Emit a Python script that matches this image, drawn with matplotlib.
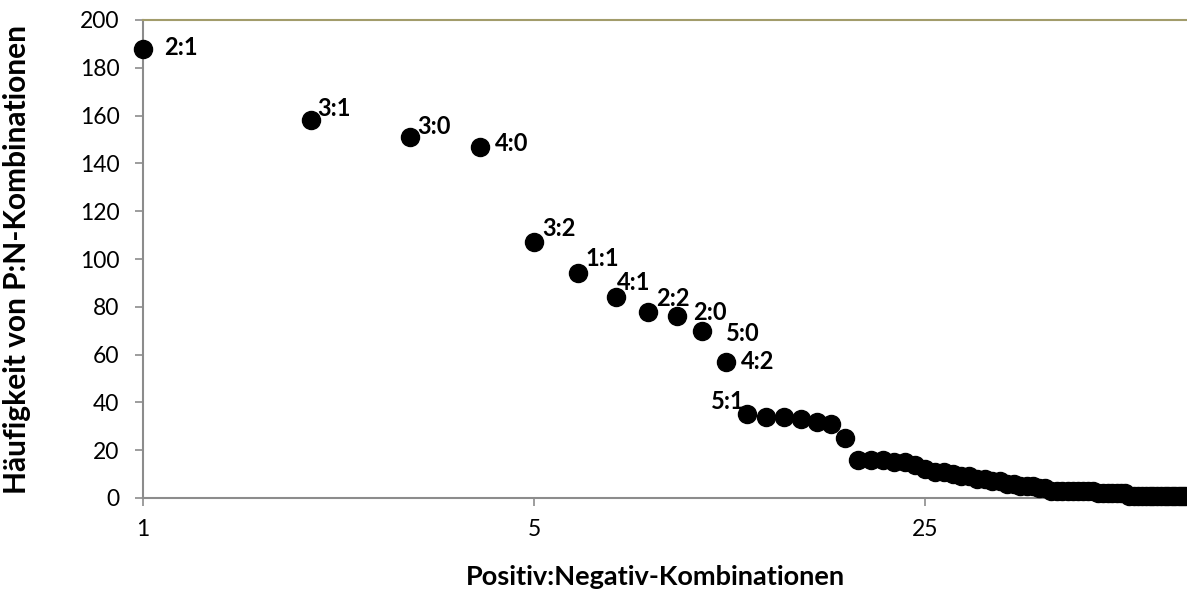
import matplotlib
matplotlib.use("Agg")
import matplotlib.pyplot as plt
from matplotlib.ticker import FixedLocator, FixedFormatter, NullLocator

# ---- data ----
values = [188, 158, 151, 147, 107, 94, 84, 78, 76, 70, 57, 35,
          34, 34, 33, 32, 31, 25,
          16, 16, 16, 15, 15, 14, 12, 11, 11, 10, 9, 9, 8, 8, 7, 7,
          6, 6, 5, 5, 5, 4, 4, 3, 3, 3, 3, 3, 3, 3, 3, 3,
          2, 2, 2, 2, 2, 2, 2,
          1, 1, 1, 1, 1, 1, 1, 1, 1, 1, 1, 1, 1, 1, 1, 1, 1]
ranks = list(range(1, len(values) + 1))
point_labels = ["2:1", "3:1", "3:0", "4:0", "3:2", "1:1", "4:1", "2:2",
                "2:0", "5:0", "4:2", "5:1"]
x_ticks = [1, 5, 25]
y_ticks = [0, 20, 40, 60, 80, 100, 120, 140, 160, 180, 200]

# label offsets (pixels, text centre relative to point centre)
label_offsets = [(38, 1), (23, 12), (24, 11), (32, 3), (25, 14), (24, 15),
                 (18, 15), (25, 13), (33, 4), (40, -3), (32, 0), (-19, 13)]

plt.rcParams['font.family'] = ['Lato', 'DejaVu Sans']

W, H = 1187, 592
fig = plt.figure(figsize=(W / 100, H / 100), dpi=100)
ax_left, ax_bottom, ax_top = 143, 498, 20
ax = fig.add_axes([ax_left / W, 1 - ax_bottom / H, 1 - ax_left / W + 0.01,
                   (ax_bottom - ax_top) / H])

ax.plot(ranks, values, linestyle='none', marker='o', markersize=13,
        color='black', clip_on=False, zorder=5)

ax.set_xscale('log', base=5)
ax.set_xlim(1, 73.5 * 5 ** (0.01 * W / 391))
ax.set_ylim(0, 200)

ax.xaxis.set_major_locator(FixedLocator(x_ticks))
ax.xaxis.set_major_formatter(FixedFormatter([str(t) for t in x_ticks]))
ax.xaxis.set_minor_locator(NullLocator())
ax.set_yticks(y_ticks)
ax.set_yticklabels([str(t) for t in y_ticks])

gray = '#8c8c8c'
for s in ['left', 'bottom']:
    ax.spines[s].set_color(gray)
    ax.spines[s].set_linewidth(1.5)
ax.spines['right'].set_visible(False)
ax.spines['top'].set_color('#a29c6b')
ax.spines['top'].set_linewidth(1.5)

ax.tick_params(axis='both', which='major', colors=gray, labelcolor='black',
               labelsize=16.5, length=6, width=1.2, direction='out')
ax.tick_params(axis='y', pad=11)
ax.tick_params(axis='x', pad=9)

for r, v, lab, (dx, dy) in zip(ranks, values, point_labels, label_offsets):
    ax.annotate(lab, (r, v), xytext=(dx, dy), textcoords='offset pixels',
                ha='center', va='center', fontsize=17, fontweight='bold',
                color='black', zorder=6)

fig.text(655 / W, 1 - 577 / H, 'Positiv:Negativ-Kombinationen',
         fontsize=19.5, fontweight='bold', ha='center', va='center')
fig.text(17 / W, 1 - 259 / H, 'Häufigkeit von P:N-Kombinationen',
         fontsize=21.5, fontweight='bold', ha='center', va='center',
         rotation=90)

fig.savefig('out.png', dpi=100)
